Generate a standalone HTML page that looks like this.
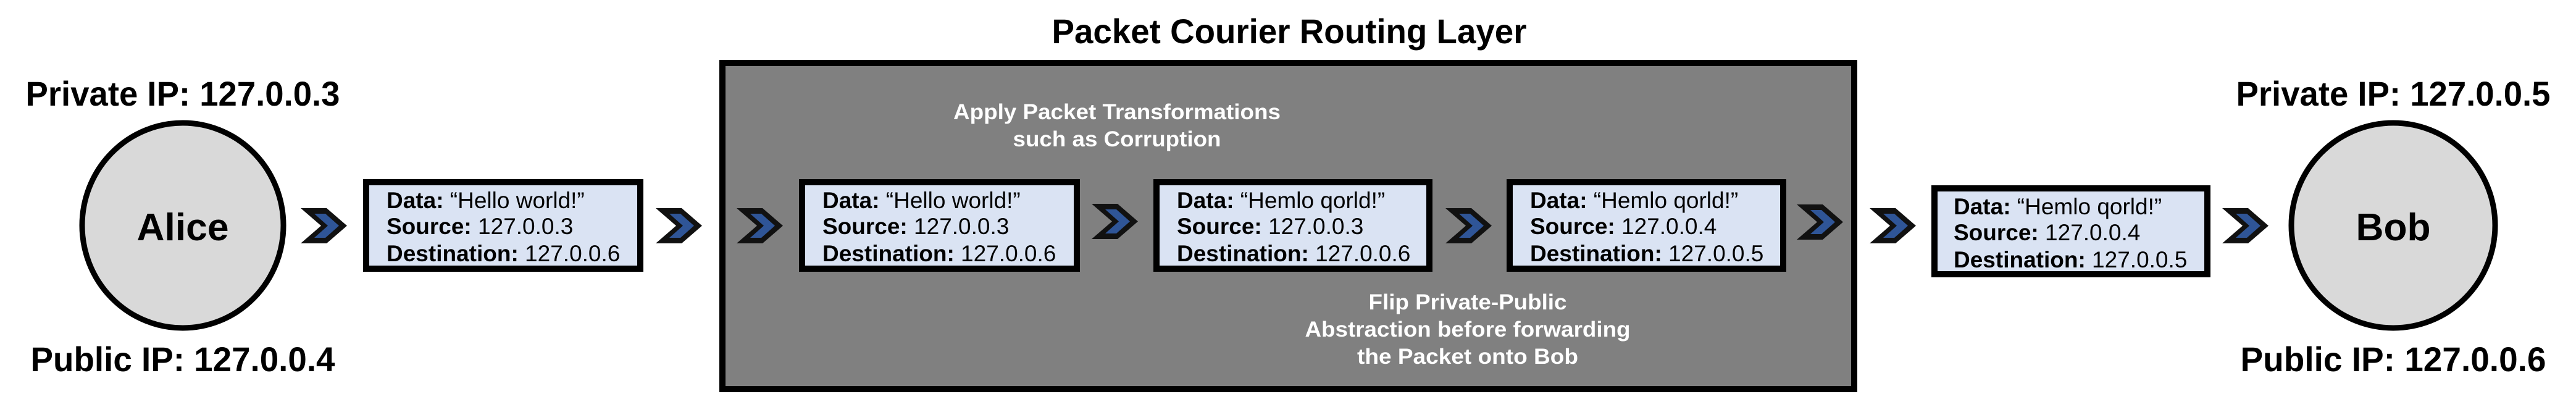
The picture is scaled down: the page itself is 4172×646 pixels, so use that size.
<!DOCTYPE html>
<html><head><meta charset="utf-8"><style>
html,body{margin:0;padding:0;background:#fff;}
svg{display:block;}
text{font-family:"Liberation Sans",Arial,sans-serif;}
</style></head><body>
<svg width="4172" height="646" viewBox="0 0 4172 646" xmlns="http://www.w3.org/2000/svg">
<defs>
<g id="chev">
<polygon points="0,0 42,0 75,28.5 42,57 0,57 33,28.5" fill="#111"/>
<polygon points="22,9 40,9 62,28.5 40,48 22,48 44,28.5" fill="#2f5597"/>
</g>
</defs>
<rect width="4172" height="646" fill="#fff"/>

<text x="2088" y="70" font-size="56" font-weight="bold" text-anchor="middle" textLength="769" lengthAdjust="spacingAndGlyphs">Packet Courier Routing Layer</text>

<rect x="1170" y="102" width="1833" height="528" fill="#808080" stroke="#000" stroke-width="10"/>

<text x="296" y="171" font-size="56" font-weight="bold" text-anchor="middle" textLength="509" lengthAdjust="spacingAndGlyphs">Private IP: 127.0.0.3</text>
<ellipse cx="296" cy="365" rx="163" ry="166" fill="#d9d9d9" stroke="#000" stroke-width="9"/>
<text x="296" y="389" font-size="62" font-weight="bold" text-anchor="middle" textLength="149" lengthAdjust="spacingAndGlyphs">Alice</text>
<text x="296" y="601" font-size="56" font-weight="bold" text-anchor="middle" textLength="493" lengthAdjust="spacingAndGlyphs">Public IP: 127.0.0.4</text>

<text x="3876" y="171" font-size="56" font-weight="bold" text-anchor="middle" textLength="509" lengthAdjust="spacingAndGlyphs">Private IP: 127.0.0.5</text>
<ellipse cx="3876" cy="365" rx="165" ry="166" fill="#d9d9d9" stroke="#000" stroke-width="9"/>
<text x="3876" y="389" font-size="62" font-weight="bold" text-anchor="middle" textLength="121" lengthAdjust="spacingAndGlyphs">Bob</text>
<text x="3876" y="601" font-size="56" font-weight="bold" text-anchor="middle" textLength="495" lengthAdjust="spacingAndGlyphs">Public IP: 127.0.0.6</text>

<use href="#chev" x="487" y="337"/>
<use href="#chev" x="1062" y="337"/>
<use href="#chev" x="1193" y="337"/>
<use href="#chev" x="1768" y="330"/>
<use href="#chev" x="2341" y="337"/>
<use href="#chev" x="2910" y="331"/>
<use href="#chev" x="3028" y="337"/>
<use href="#chev" x="3599" y="337"/>

<g font-size="37">
<rect x="593" y="295" width="444" height="140" fill="#dae3f3" stroke="#000" stroke-width="10"/>
<text x="626" y="337"><tspan font-weight="bold">Data:</tspan> “Hello world!”</text>
<text x="626" y="379"><tspan font-weight="bold">Source:</tspan> 127.0.0.3</text>
<text x="626" y="423"><tspan font-weight="bold">Destination:</tspan> 127.0.0.6</text>

<rect x="1299" y="295" width="445" height="140" fill="#dae3f3" stroke="#000" stroke-width="10"/>
<text x="1332" y="337"><tspan font-weight="bold">Data:</tspan> “Hello world!”</text>
<text x="1332" y="379"><tspan font-weight="bold">Source:</tspan> 127.0.0.3</text>
<text x="1332" y="423"><tspan font-weight="bold">Destination:</tspan> 127.0.0.6</text>

<rect x="1873" y="295" width="442" height="140" fill="#dae3f3" stroke="#000" stroke-width="10"/>
<text x="1906" y="337"><tspan font-weight="bold">Data:</tspan> “Hemlo qorld!”</text>
<text x="1906" y="379"><tspan font-weight="bold">Source:</tspan> 127.0.0.3</text>
<text x="1906" y="423"><tspan font-weight="bold">Destination:</tspan> 127.0.0.6</text>

<rect x="2445" y="295" width="443" height="140" fill="#dae3f3" stroke="#000" stroke-width="10"/>
<text x="2478" y="337"><tspan font-weight="bold">Data:</tspan> “Hemlo qorld!”</text>
<text x="2478" y="379"><tspan font-weight="bold">Source:</tspan> 127.0.0.4</text>
<text x="2478" y="423"><tspan font-weight="bold">Destination:</tspan> 127.0.0.5</text>

<rect x="3133" y="305" width="442" height="139" fill="#dae3f3" stroke="#000" stroke-width="10"/>
<text x="3164" y="347"><tspan font-weight="bold">Data:</tspan> “Hemlo qorld!”</text>
<text x="3164" y="389"><tspan font-weight="bold">Source:</tspan> 127.0.0.4</text>
<text x="3164" y="433"><tspan font-weight="bold">Destination:</tspan> 127.0.0.5</text>
</g>

<g font-size="35" font-weight="bold" fill="#fff" text-anchor="middle">
<text x="1809" y="193" textLength="530" lengthAdjust="spacingAndGlyphs">Apply Packet Transformations</text>
<text x="1809" y="237" textLength="337" lengthAdjust="spacingAndGlyphs">such as Corruption</text>
<text x="2377" y="501" textLength="321" lengthAdjust="spacingAndGlyphs">Flip Private-Public</text>
<text x="2377" y="545" textLength="527" lengthAdjust="spacingAndGlyphs">Abstraction before forwarding</text>
<text x="2377" y="589" textLength="358" lengthAdjust="spacingAndGlyphs">the Packet onto Bob</text>
</g>
</svg>
</body></html>
